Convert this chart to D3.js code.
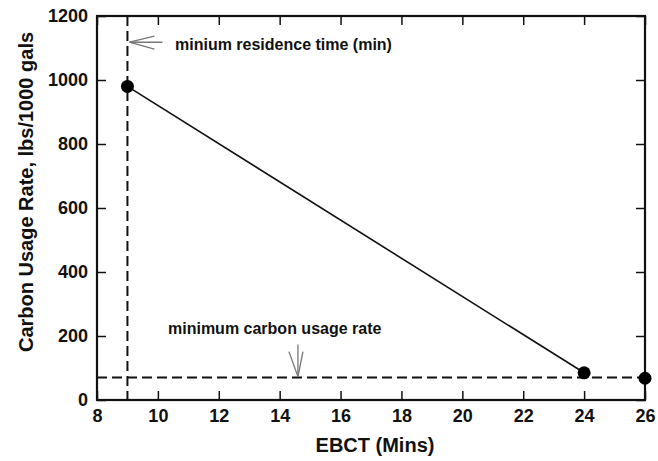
<!DOCTYPE html>
<html>
<head>
<meta charset="utf-8">
<script src="https://cdn.jsdelivr.net/npm/d3@7"></script>
<style>
  body { margin: 0; background: #fff; }
  svg text { font-family: "Liberation Sans", Arial, sans-serif; font-weight: bold; }
</style>
</head>
<body>
<svg width="658" height="461"></svg>
<script>
// data
const ebct = [9, 24, 26]
const usage = [980, 85, 68]
const minTime = 9
const minRate = 70
const xTicks = [8, 10, 12, 14, 16, 18, 20, 22, 24, 26]
const yTicks = [0, 200, 400, 600, 800, 1000, 1200]

const margin = { top: 16, right: 13, bottom: 61, left: 97 }
const width = 658
const height = 461
const svg = d3.select("svg")

const x = d3.scaleLinear().domain([8, 26]).range([margin.left, width - margin.right])
const y = d3.scaleLinear().domain([0, 1200]).range([height - margin.bottom, margin.top])

const TICK = 9
const fmt = d3.format("d")

// axes, ticks pointing inward on all four sides
svg.append("g")
    .attr("transform", "translate(0," + y(0) + ")")
    .call(d3.axisBottom(x).tickValues(xTicks).tickSize(-TICK).tickPadding(9).tickFormat(fmt))
svg.append("g")
    .attr("transform", "translate(0," + y(1200) + ")")
    .call(d3.axisTop(x).tickValues(xTicks).tickSize(-TICK).tickFormat(""))
svg.append("g")
    .attr("transform", "translate(" + x(8) + ",0)")
    .call(d3.axisLeft(y).tickValues(yTicks).tickSize(-TICK).tickPadding(9).tickFormat(fmt))
svg.append("g")
    .attr("transform", "translate(" + x(26) + ",0)")
    .call(d3.axisRight(y).tickValues(yTicks).tickSize(-TICK).tickFormat(""))

svg.selectAll(".domain").remove()
svg.selectAll(".tick line").attr("stroke", "#111").attr("stroke-width", 1.5)
svg.selectAll(".tick text").attr("font-size", 18).attr("fill", "#111")

// frame
svg.append("rect")
    .attr("x", x(8))
    .attr("y", y(1200))
    .attr("width", x(26) - x(8))
    .attr("height", y(0) - y(1200))
    .attr("fill", "none")
    .attr("stroke", "#111")
    .attr("stroke-width", 2.2)

// dashed limit lines
svg.append("line")
    .attr("x1", x(minTime)).attr("x2", x(minTime))
    .attr("y1", y(1200)).attr("y2", y(0))
    .attr("stroke", "#111").attr("stroke-width", 2)
    .attr("stroke-dasharray", "10,5")
svg.append("line")
    .attr("x1", x(8)).attr("x2", x(26))
    .attr("y1", y(minRate)).attr("y2", y(minRate))
    .attr("stroke", "#111").attr("stroke-width", 2)
    .attr("stroke-dasharray", "10,5")

// the fitted line joins the first two points only
const line = d3.line().x(d => x(d[0])).y(d => y(d[1]))
svg.append("path")
    .datum([[ebct[0], usage[0]], [ebct[1], usage[1]]])
    .attr("d", line)
    .attr("fill", "none")
    .attr("stroke", "#111")
    .attr("stroke-width", 1.6)

svg.selectAll("circle.pt")
    .data(d3.zip(ebct, usage))
    .enter()
    .append("circle")
    .classed("pt", true)
    .attr("cx", d => x(d[0]))
    .attr("cy", d => y(d[1]))
    .attr("r", 6.5)
    .attr("fill", "#000")

// annotations with open arrows
const arrowColor = "#777"
function openArrow(tip, tail, barbA, barbB) {
    const g = svg.append("g").attr("stroke", arrowColor).attr("stroke-width", 1.3).attr("fill", "none")
    g.append("line").attr("x1", tip[0]).attr("y1", tip[1]).attr("x2", tail[0]).attr("y2", tail[1])
    g.append("line").attr("x1", tip[0]).attr("y1", tip[1]).attr("x2", barbA[0]).attr("y2", barbA[1])
    g.append("line").attr("x1", tip[0]).attr("y1", tip[1]).attr("x2", barbB[0]).attr("y2", barbB[1])
}

const tipTop = [x(minTime) + 2, y(1118)]
openArrow(tipTop, [tipTop[0] + 33, tipTop[1]], [tipTop[0] + 25, tipTop[1] - 6], [tipTop[0] + 25, tipTop[1] + 7])
svg.append("text")
    .attr("x", 175)
    .attr("y", 50)
    .attr("font-size", 16)
    .attr("fill", "#111")
    .text("minium residence time (min)")

const tipLow = [x(14.6), y(minRate) - 1]
openArrow(tipLow, [tipLow[0], tipLow[1] - 32], [tipLow[0] - 9, tipLow[1] - 25], [tipLow[0] + 5, tipLow[1] - 25])
svg.append("text")
    .attr("x", 168)
    .attr("y", 334)
    .attr("font-size", 16)
    .attr("fill", "#111")
    .text("minimum carbon usage rate")

// axis titles
svg.append("text")
    .attr("x", 375)
    .attr("y", 452)
    .attr("text-anchor", "middle")
    .attr("font-size", 20)
    .attr("fill", "#111")
    .text("EBCT (Mins)")

svg.append("text")
    .attr("transform", "translate(33,192) rotate(-90)")
    .attr("text-anchor", "middle")
    .attr("font-size", 20)
    .attr("fill", "#111")
    .text("Carbon Usage Rate, lbs/1000 gals")
</script>
</body>
</html>
